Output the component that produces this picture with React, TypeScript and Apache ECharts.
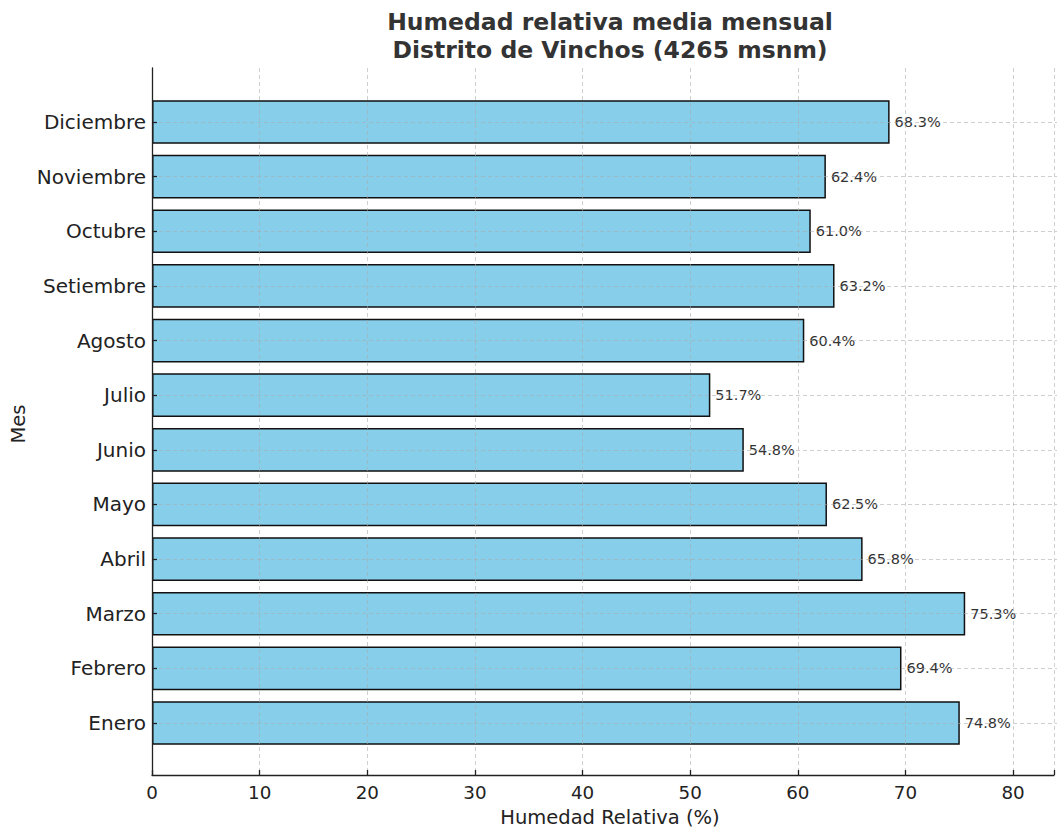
import React, { useEffect, useRef } from "react";
import * as echarts from "echarts";

const months = [
  "Enero", "Febrero", "Marzo", "Abril", "Mayo", "Junio",
  "Julio", "Agosto", "Setiembre", "Octubre", "Noviembre", "Diciembre",
];
const humidity = [74.8, 69.4, 75.3, 65.8, 62.5, 54.8, 51.7, 60.4, 63.2, 61.0, 62.4, 68.3];
const titleLines = ["Humedad relativa media mensual", "Distrito de Vinchos (4265 msnm)"];
const xTitle = "Humedad Relativa (%)";
const yTitle = "Mes";

const FONT = "DejaVu Sans";
const X_MAX = 83.8;

export default function App() {
  const ref = useRef<HTMLDivElement>(null);
  useEffect(() => {
    document.body.style.margin = "0";
    document.body.style.overflow = "hidden";
    if (!ref.current) return;
    const chart = echarts.init(ref.current, null, { renderer: "svg" });
    const gridLine = { show: true, lineStyle: { color: "rgba(170,170,170,0.55)", type: [4, 3], width: 1 } };
    chart.setOption({
      animation: false,
      backgroundColor: "#fff",
      textStyle: { fontFamily: FONT },
      grid: [
        { left: 152, right: 0, top: 68, bottom: 53, containLabel: false },
        { left: 152, right: 0, top: 122, bottom: 105, containLabel: false },
      ],
      xAxis: [
        {
          type: "value", gridIndex: 0, min: 0, max: X_MAX, interval: 10, z: 3,
          axisLine: { show: true, lineStyle: { color: "#222", width: 1.3 } },
          axisTick: { show: true, inside: true, length: 5, lineStyle: { color: "#222", width: 1.3 } },
          axisLabel: {
            fontSize: 18.3, color: "#222", margin: 8, fontFamily: FONT,
            formatter: (v: number) => (v % 10 === 0 && v <= 80 ? String(v) : ""),
          },
          splitLine: gridLine,
        },
        {
          type: "value", gridIndex: 1, min: 0, max: X_MAX, show: false,
          splitLine: { show: false },
        },
      ],
      yAxis: [
        {
          type: "value", gridIndex: 0, min: 0, max: 1, z: 5,
          axisLine: { show: true, lineStyle: { color: "#222", width: 1.3 } },
          axisTick: { show: false }, axisLabel: { show: false }, splitLine: { show: false },
        },
        {
          type: "category", gridIndex: 1, data: months, boundaryGap: false, z: 3,
          axisLine: { show: false },
          axisTick: { show: true, inside: true, length: 5, alignWithLabel: true, lineStyle: { color: "#222", width: 1.3 } },
          axisLabel: { fontSize: 20, color: "#222", margin: 6, fontFamily: FONT },
          splitLine: gridLine,
        },
      ],
      series: [
        {
          type: "bar",
          xAxisIndex: 1,
          yAxisIndex: 1,
          data: humidity,
          barWidth: 43.7,
          clip: false,
          itemStyle: { color: "#87CEEB", borderColor: "#111", borderWidth: 1.5 },
          label: {
            show: true, position: "right", distance: 5,
            fontSize: 14.5, color: "#333", fontFamily: FONT,
            formatter: (p: any) => `${Number(p.value).toFixed(1)}%`,
          },
        },
      ],
      graphic: [
        {
          type: "text", x: 610, y: 22, z: 10,
          style: {
            text: titleLines[0], fontSize: 23.5, fontWeight: "bold", fill: "#333",
            fontFamily: FONT, align: "center", verticalAlign: "middle",
          },
        },
        {
          type: "text", x: 610, y: 50, z: 10,
          style: {
            text: titleLines[1], fontSize: 23.5, fontWeight: "bold", fill: "#333",
            fontFamily: FONT, align: "center", verticalAlign: "middle",
          },
        },
        {
          type: "text", x: 610, y: 817, z: 10,
          style: {
            text: xTitle, fontSize: 19.5, fill: "#222", fontFamily: FONT,
            align: "center", verticalAlign: "middle",
          },
        },
        {
          type: "text", x: 18, y: 424, rotation: Math.PI / 2, z: 10,
          style: {
            text: yTitle, fontSize: 19.5, fill: "#222", fontFamily: FONT,
            align: "center", verticalAlign: "middle",
          },
        },
      ],
    });
    return () => chart.dispose();
  }, []);
  return <div ref={ref} style={{ position: "absolute", left: 0, top: 0, width: 1057, height: 828 }} />;
}
